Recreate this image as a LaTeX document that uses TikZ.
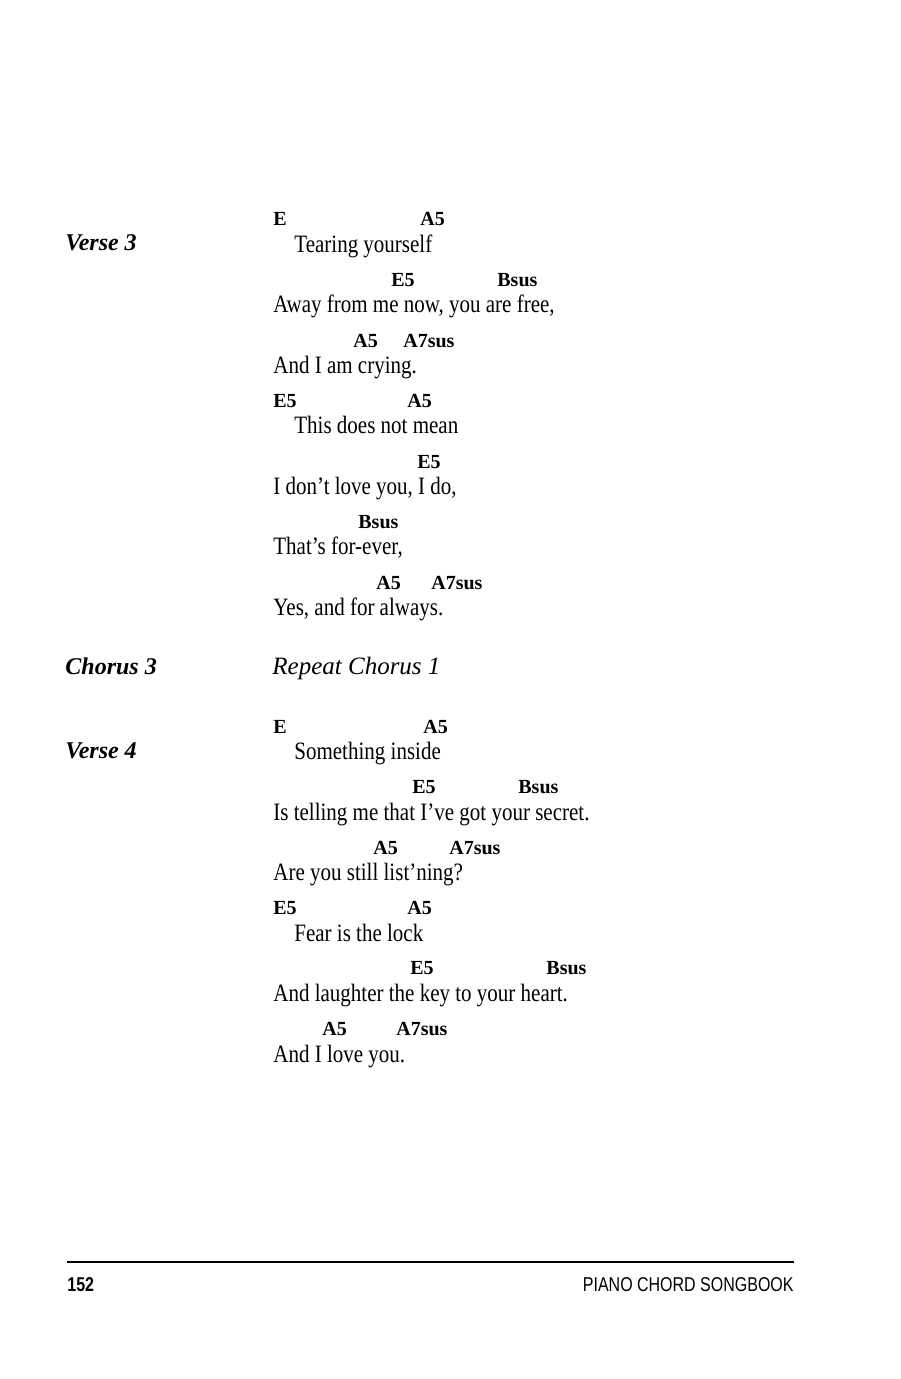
\documentclass[tikz,border=0pt]{standalone}
\usepackage{fontspec}
\setmainfont{Liberation Serif}
\newfontfamily\lyricfont[FakeStretch=0.84]{Liberation Serif}
\newfontfamily\footfont[FakeStretch=0.8]{Liberation Sans}
\tikzset{
  chord/.style={anchor=base west,inner sep=0pt,font=\fontsize{10}{12}\selectfont\bfseries},
  lyric/.style={anchor=base west,inner sep=0pt,font=\fontsize{12.5}{14}\lyricfont},
  part/.style={anchor=base west,inner sep=0pt,font=\fontsize{12}{14}\selectfont\bfseries\itshape},
  foot/.style={anchor=base west,inner sep=0pt,font=\fontsize{10}{12}\footfont}
}
\begin{document}
\begin{tikzpicture}[x=0.5pt,y=-0.5pt]
\useasboundingbox (0,0) rectangle (900,1379);

% section labels
\node[part] (v3) at (65,251) {Verse 3};
\node[part] (ch3) at (65,674) {Chorus 3};
\node[part] (v4) at (65,758) {Verse 4};
\node[anchor=base west,inner sep=0pt,font=\fontsize{12.5}{14}\selectfont\itshape] (rep) at (272,674) {Repeat Chorus 1};

% chords
\foreach \x/\y/\t [count=\i] in {273/226/E,420/226/A5,391/287/E5,497/287/Bsus,353/348/A5,403/348/A7sus,
  273/408/E5,407/408/A5,417/468/E5,358/528/Bsus,376/589/A5,431/589/A7sus,
  273/733/E,423/733/A5,412/793/E5,518/793/Bsus,373/854/A5,449/854/A7sus,
  273/914/E5,407/914/A5,410/974/E5,546/974/Bsus,322/1035/A5,396/1035/A7sus} {
  \node[chord] (c\i) at (\x,\y) {\t};
}

% lyrics
\foreach \x/\y/\t [count=\i] in {294/253/{Tearing yourself},273/313/{Away from me now, you are free,},
  273/374/{And I am crying.},294/434/{This does not mean},273/494/{I don’t love you, I do,},
  273/554/{That’s for-ever,},273/615/{Yes, and for always.},
  294/759/{Something inside},273/820/{Is telling me that I’ve got your secret.},
  273/880/{Are you still list’ning?},294/941/{Fear is the lock},
  273/1001/{And laughter the key to your heart.},273/1062/{And I love you.}} {
  \node[lyric] (l\i) at (\x,\y) {\t};
}

% footer
\coordinate (rl) at (67,1262);
\coordinate (rr) at (794,1262);
\draw[line width=0.6pt] (rl) -- (rr);
\node[foot,font=\fontsize{10}{12}\footfont\bfseries] (pg) at (67,1291) {152};
\node[foot,anchor=base east] (bk) at (794,1291) {PIANO CHORD SONGBOOK};
\end{tikzpicture}
\end{document}
